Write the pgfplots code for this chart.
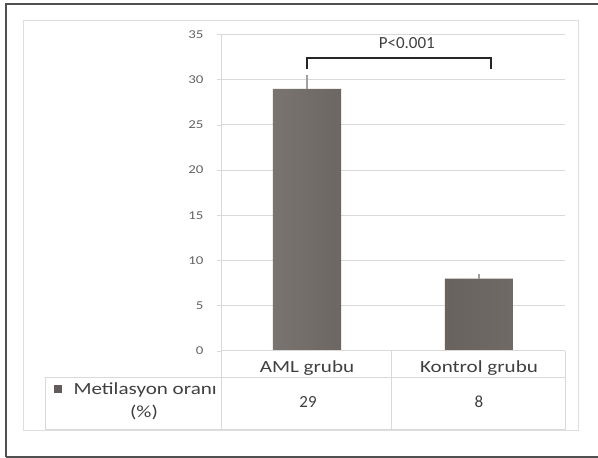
\documentclass[border=0pt]{standalone}
\usepackage{pgfplots}
\pgfplotsset{compat=1.18}
\usepackage{fontspec}
\setmainfont{Carlito}
\newfontfamily\wide[FakeStretch=1.24]{Carlito}
\definecolor{gridc}{RGB}{217,217,217}
\definecolor{framec}{RGB}{222,222,222}
\definecolor{outerc}{RGB}{80,80,80}
\definecolor{txtc}{RGB}{64,64,64}
\definecolor{tickc}{RGB}{100,100,100}
\definecolor{barE}{RGB}{122,116,112}
\definecolor{barM}{RGB}{98,93,90}
\definecolor{barR}{RGB}{112,106,102}
\definecolor{errc}{RGB}{165,160,158}
\begin{document}
\begin{tikzpicture}[x=1pt,y=1pt]
\useasboundingbox (0,0) rectangle (598,458);
\fill[white] (0,0) rectangle (598,458);
% outer frame
\draw[outerc, line width=1.3pt] (6,1) -- (6,454) -- (605,454);
\draw[outerc, line width=1.3pt] (6,1) -- (605,1);
% inner chart frame
\draw[framec, line width=1pt] (23,27) rectangle (578,437);
\begin{axis}[
  at={(221pt,107pt)}, anchor=south west,
  scale only axis, width=344pt, height=316.5pt,
  xmin=-0.5, xmax=1.5, ymin=0, ymax=35,
  ytick={0,5,...,35},
  xtick={0,1}, xticklabels={AML grubu, Kontrol grubu},
  xtick style={draw=none},
  ytick style={draw=gridc, line width=0.8pt},
  major tick length=4pt,
  tick align=outside,
  axis x line*=bottom, axis y line*=left,
  axis line style={draw=gridc, line width=1pt, -},
  ymajorgrids, grid style={draw=gridc, line width=1pt},
  /pgf/number format/assume math mode=true,
  yticklabel style={font=\wide\fontsize{12}{14}\selectfont, text=tickc, xshift=-10pt},
  xticklabel style={font=\wide\fontsize{17}{20}\selectfont, text=txtc, anchor=center, yshift=-13.5pt},
  clip=false,
]
\addplot[ybar, bar width=68pt, draw=none, left color=barE, right color=barR, middle color=barM]
  coordinates {(0,29) (1,8)};
\addplot[draw=none, mark=none, forget plot,
  error bars/.cd, y dir=plus, y explicit, error mark=none,
  error bar style={draw=errc, solid, line width=1.6pt}]
  coordinates {(0,29) +- (0,1.5) (1,8) +- (0,0.5)};
\draw[black!85, line width=1.6pt] (axis cs:0,31.2) -- (axis cs:0,32.4) -- (axis cs:1.07,32.4) -- (axis cs:1.07,31.2);
\node[font=\fontsize{17}{20}\selectfont, text=txtc] at (axis cs:0.58,34.0) {P<0.001};
\end{axis}
% data table lines
\draw[gridc, line width=1pt] (45,80) -- (565,80);
\draw[gridc, line width=1pt] (45,28) -- (565,28);
\draw[gridc, line width=1pt] (221,107) -- (565,107);
\draw[gridc, line width=1pt] (221,107) -- (221,28);
\draw[gridc, line width=1pt] (391,107) -- (391,28);
\draw[gridc, line width=1pt] (565,107) -- (565,28);
\draw[gridc, line width=1pt] (45,80) -- (45,28);
% table text
\fill[barM] (54,65) rectangle (62,73);
\node[anchor=east, font=\wide\fontsize{17}{20}\selectfont, text=txtc, inner sep=0pt] at (217,68) {Metilasyon oranı};
\node[font=\wide\fontsize{17}{20}\selectfont, text=txtc, inner sep=0pt] at (144,46) {(\%)};
\node[font=\fontsize{17}{20}\selectfont, text=txtc, inner sep=0pt] at (308,56) {29};
\node[font=\fontsize{17}{20}\selectfont, text=txtc, inner sep=0pt] at (479,56) {8};
\end{tikzpicture}
\end{document}
